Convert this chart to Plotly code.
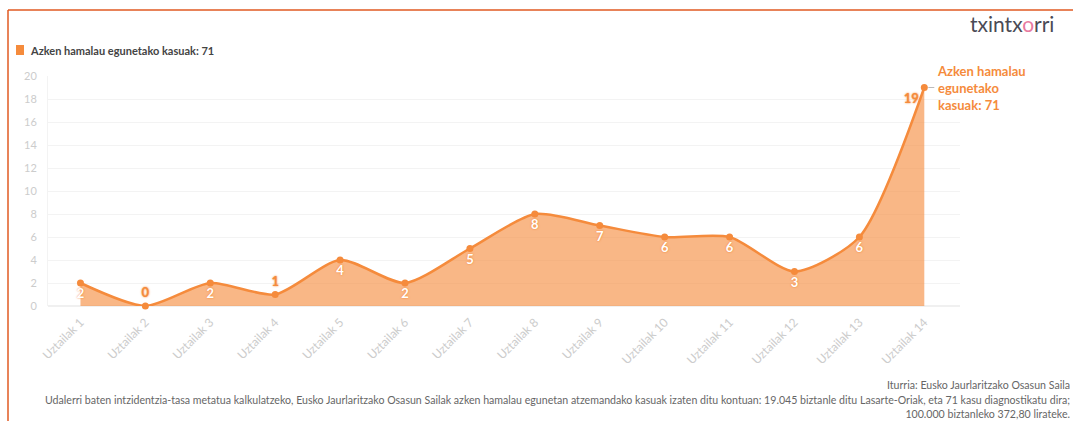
import plotly.graph_objects as go

categories = [f"Uztailak {i}" for i in range(1, 15)]
cases = [2, 0, 2, 1, 4, 2, 5, 8, 7, 6, 6, 3, 6, 19]
label_pos = ["bottom center", "top center", "bottom center", "top center",
             "bottom center", "bottom center", "bottom center", "bottom center",
             "bottom center", "bottom center", "bottom center", "bottom center",
             "bottom center", "bottom left"]
label_col = ["white", "#f58b3c", "white", "#f58b3c", "white", "white", "white",
             "white", "white", "white", "white", "white", "white", "#f58b3c"]
series_name = "Azken hamalau egunetako kasuak: 71"

ORANGE = "#f58b3c"
FONT = "Lato"

L, R, T, B = 48, 960, 76, 306
W, H = 1073, 421
pw, ph = R - L, B - T

def px(xp):
    return (xp - L) / pw

def py(yp):
    return (B - yp) / ph

fig = go.Figure()
fig.add_trace(go.Scatter(
    x=categories, y=cases, mode="lines+markers+text",
    line=dict(color=ORANGE, width=2.5, shape="spline", smoothing=0.7),
    marker=dict(color=ORANGE, size=7),
    fill="tozeroy", fillcolor="rgba(245,139,60,0.62)",
    text=[str(v) for v in cases], textposition=label_pos,
    textfont=dict(family=FONT, size=13, color=label_col, weight="bold",
                  shadow="0px 0px 2px #f07a20"),
    cliponaxis=False, showlegend=False, name=series_name,
    hoverinfo="x+y",
))

fig.update_layout(
    width=W, height=H,
    margin=dict(l=L, r=W - R, t=T, b=H - B, autoexpand=False),
    paper_bgcolor="white", plot_bgcolor="white",
    font=dict(family=FONT, color="#666"),
    xaxis=dict(range=[-0.5, 13.55], tickangle=-45, showgrid=False,
               tickfont=dict(family=FONT, size=12, color="#cccccc"),
               showline=False, zeroline=False, ticks="", automargin=False,
               ticklabelstandoff=6),
    yaxis=dict(range=[0, 20], dtick=2, gridcolor="#f3f3f3", gridwidth=1,
               tickfont=dict(family=FONT, size=11, color="#cccccc"),
               zeroline=True, zerolinecolor="#f0f0f0", showline=True,
               linecolor="#f3f3f3", ticks="", fixedrange=True, automargin=False,
               ticklabelstandoff=8),
    shapes=[
        # frame border (top and left)
        dict(type="line", xref="paper", yref="paper", x0=px(8), x1=px(1073),
             y0=py(10), y1=py(10), line=dict(color="#e05a22", width=1.5)),
        dict(type="line", xref="paper", yref="paper", x0=px(8), x1=px(8),
             y0=py(10), y1=py(421), line=dict(color="#e05a22", width=1.5)),
        # legend swatch
        dict(type="rect", xref="paper", yref="paper", x0=px(16), x1=px(24),
             y0=py(55), y1=py(45), fillcolor=ORANGE, line=dict(width=0)),
        # connector to end label
        dict(type="line", xref="x", yref="y", xsizemode="pixel", xanchor=13,
             x0=4, x1=10, y0=19, y1=19, line=dict(color="#bbbbbb", width=1)),
    ],
    annotations=[
        dict(xref="paper", yref="paper", x=px(28), y=py(50), xanchor="left",
             yanchor="middle", showarrow=False, text="<b>" + series_name + "</b>",
             font=dict(family=FONT, size=11, color="#444")),
        dict(xref="x", yref="y", x=13, y=19, xshift=11, xanchor="left",
             yanchor="middle", align="left", showarrow=False,
             text="<b>Azken hamalau<br>egunetako<br>kasuak: 71</b>",
             font=dict(family=FONT, size=13, color=ORANGE, weight="bold")),
        dict(xref="paper", yref="paper", x=px(1056), y=py(24), xanchor="right",
             yanchor="middle", showarrow=False,
             text="txintx<span style='color:#e77aa0'>o</span>rri",
             font=dict(family=FONT, size=21, color="#4a4a55")),
        dict(xref="paper", yref="paper", x=px(1072), y=py(385), xanchor="right",
             yanchor="middle", showarrow=False, align="right",
             text="Iturria: Eusko Jaurlaritzako Osasun Saila",
             font=dict(family=FONT, size=10.6, color="#666")),
        dict(xref="paper", yref="paper", x=px(1072), y=py(407), xanchor="right",
             yanchor="middle", showarrow=False, align="right",
             text="Udalerri baten intzidentzia-tasa metatua kalkulatzeko, Eusko Jaurlaritzako Osasun Sailak azken hamalau egunetan atzemandako kasuak izaten ditu kontuan: 19.045 biztanle ditu Lasarte-Oriak, eta 71 kasu diagnostikatu dira;<br>100.000 biztanleko 372,80 lirateke.",
             font=dict(family=FONT, size=10.6, color="#666")),
    ],
)

fig.write_html("out.html", config={"displayModeBar": False},
               post_script="document.body.style.margin='0';")
